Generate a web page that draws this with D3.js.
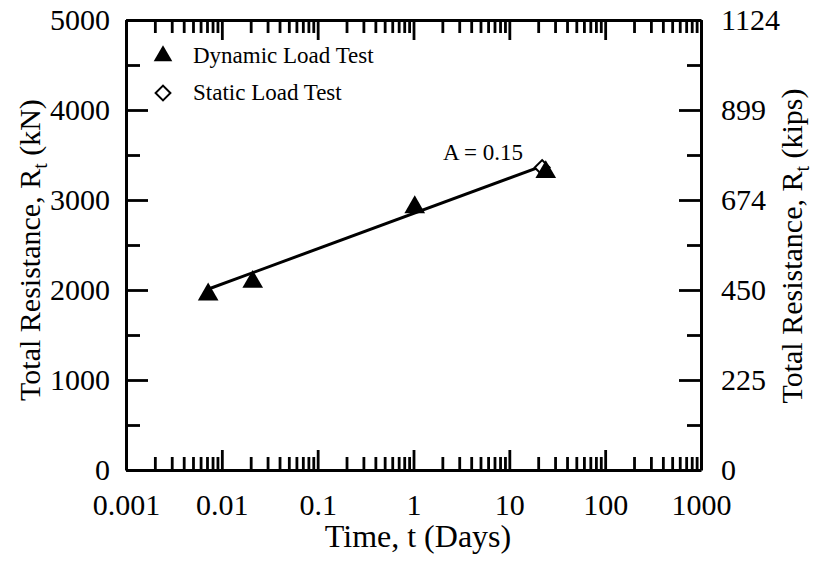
<!DOCTYPE html>
<html><head><meta charset="utf-8">
<script src="https://cdn.jsdelivr.net/npm/d3@7"></script>
<style>
html,body{margin:0;padding:0;background:#fff;}
text{font-family:"Liberation Serif","Times New Roman",serif;fill:#000;}
</style></head>
<body>
<svg id="chart" width="814" height="563"></svg>
<script>
// ---- data ----
const dynamicTime = [0.0072, 0.021, 1.03, 24];
const dynamicResistance = [1950, 2090, 2920, 3310];
const staticTime = [22];
const staticResistance = [3360];
const fitTime = [0.0068, 23];
const fitResistance = [2000, 3385];
const xTickValues = [0.001, 0.01, 0.1, 1, 10, 100, 1000];
const xTickLabels = ["0.001", "0.01", "0.1", "1", "10", "100", "1000"];
const yTickValues = [0, 1000, 2000, 3000, 4000, 5000];
const yTickLabels = ["0", "1000", "2000", "3000", "4000", "5000"];
const kipsTickLabels = ["0", "225", "450", "674", "899", "1124"];
const yMinorValues = [500, 1500, 2500, 3500, 4500];
const legendLabels = ["Dynamic Load Test", "Static Load Test"];
const annotation = "A = 0.15";
const annotationAt = [5.3, 3445];

// ---- layout ----
const L = 126, R = 701, T = 20, B = 470;
const svg = d3.select("#chart");
const x = d3.scaleLog().domain([0.001, 1000]).range([L, R]);
const y = d3.scaleLinear().domain([0, 5000]).range([B, T]);

const xMinor = [];
for (let e = -3; e < 3; e++) for (let m = 2; m <= 9; m++) xMinor.push(m * Math.pow(10, e));

function styleAxis(g) {
  g.selectAll("path.domain").attr("stroke", "#000").attr("stroke-width", 3);
  g.selectAll(".tick line").attr("stroke", "#000").attr("stroke-width", 2.8);
  g.selectAll("text").attr("font-family", "Liberation Serif").attr("font-size", 30).attr("fill", "#000");
}

// minor ticks
svg.append("g").attr("transform", `translate(0,${B})`)
  .call(d3.axisBottom(x).tickValues(xMinor).tickSize(-13).tickFormat(""))
  .call(styleAxis).select(".domain").remove();
svg.append("g").attr("transform", `translate(0,${T})`)
  .call(d3.axisTop(x).tickValues(xMinor).tickSize(-13).tickFormat(""))
  .call(styleAxis).select(".domain").remove();
svg.append("g").attr("transform", `translate(${L},0)`)
  .call(d3.axisLeft(y).tickValues(yMinorValues).tickSize(-14).tickFormat(""))
  .call(styleAxis).select(".domain").remove();
svg.append("g").attr("transform", `translate(${R},0)`)
  .call(d3.axisRight(y).tickValues(yMinorValues).tickSize(-14).tickFormat(""))
  .call(styleAxis).select(".domain").remove();

// major axes
svg.append("g").attr("transform", `translate(0,${B})`)
  .call(d3.axisBottom(x).tickValues(xTickValues).tickSize(-20).tickSizeOuter(0).tickPadding(24)
    .tickFormat((d, i) => xTickLabels[i]))
  .call(styleAxis);
svg.append("g").attr("transform", `translate(0,${T})`)
  .call(d3.axisTop(x).tickValues(xTickValues).tickSize(-20).tickSizeOuter(0).tickFormat(""))
  .call(styleAxis);
svg.append("g").attr("transform", `translate(${L},0)`)
  .call(d3.axisLeft(y).tickValues(yTickValues).tickSize(-22).tickSizeOuter(0).tickPadding(16)
    .tickFormat((d, i) => yTickLabels[i]))
  .call(styleAxis);
svg.append("g").attr("transform", `translate(${R},0)`)
  .call(d3.axisRight(y).tickValues(yTickValues).tickSize(-22).tickSizeOuter(0).tickPadding(20)
    .tickFormat((d, i) => kipsTickLabels[i]))
  .call(styleAxis);

// fit line
const line = d3.line().x(d => x(d[0])).y(d => y(d[1]));
svg.append("path").datum(fitTime.map((t, i) => [t, fitResistance[i]]))
  .attr("d", line).attr("fill", "none").attr("stroke", "#000").attr("stroke-width", 3);

// markers
const tri = d3.symbol().type(d3.symbolTriangle).size(185);
const dia = d3.symbol().type(d3.symbolSquare).size(110);
svg.selectAll("path.stat").data(staticTime.map((t, i) => [t, staticResistance[i]])).enter()
  .append("path").attr("class", "stat").attr("d", dia)
  .attr("transform", d => `translate(${x(d[0])},${y(d[1])}) rotate(45)`)
  .attr("fill", "#fff").attr("stroke", "#000").attr("stroke-width", 2);
svg.selectAll("path.dyn").data(dynamicTime.map((t, i) => [t, dynamicResistance[i]])).enter()
  .append("path").attr("class", "dyn").attr("d", tri)
  .attr("transform", d => `translate(${x(d[0])},${y(d[1])})`)
  .attr("fill", "#000");

// annotation
svg.append("text").attr("x", x(annotationAt[0])).attr("y", y(annotationAt[1])).attr("text-anchor", "middle")
  .attr("font-size", 23).text(annotation);

// legend
const lg = svg.append("g");
lg.append("path").attr("d", d3.symbol().type(d3.symbolTriangle).size(150)).attr("transform", "translate(163,56)").attr("fill", "#000");
lg.append("text").attr("x", 193).attr("y", 63).attr("font-size", 23).text(legendLabels[0]);
lg.append("path").attr("d", d3.symbol().type(d3.symbolSquare).size(110)).attr("transform", "translate(163,93) rotate(45)")
  .attr("fill", "#fff").attr("stroke", "#000").attr("stroke-width", 2);
lg.append("text").attr("x", 193).attr("y", 100).attr("font-size", 23).text(legendLabels[1]);

// axis titles
svg.append("text").attr("x", 418).attr("y", 547).attr("text-anchor", "middle").attr("font-size", 32).text("Time, t (Days)");

function rtTitle(unit, tx, ty) {
  const t = svg.append("text").attr("transform", `translate(${tx},${ty}) rotate(-90)`)
    .attr("text-anchor", "middle").attr("font-size", 30);
  t.append("tspan").text("Total Resistance, R");
  t.append("tspan").attr("font-size", 20).attr("dy", 7).text("t");
  t.append("tspan").attr("dy", -7).text(" (" + unit + ")");
}
rtTitle("kN", 40, 250);
rtTitle("kips", 802, 246);
</script>
</body></html>
